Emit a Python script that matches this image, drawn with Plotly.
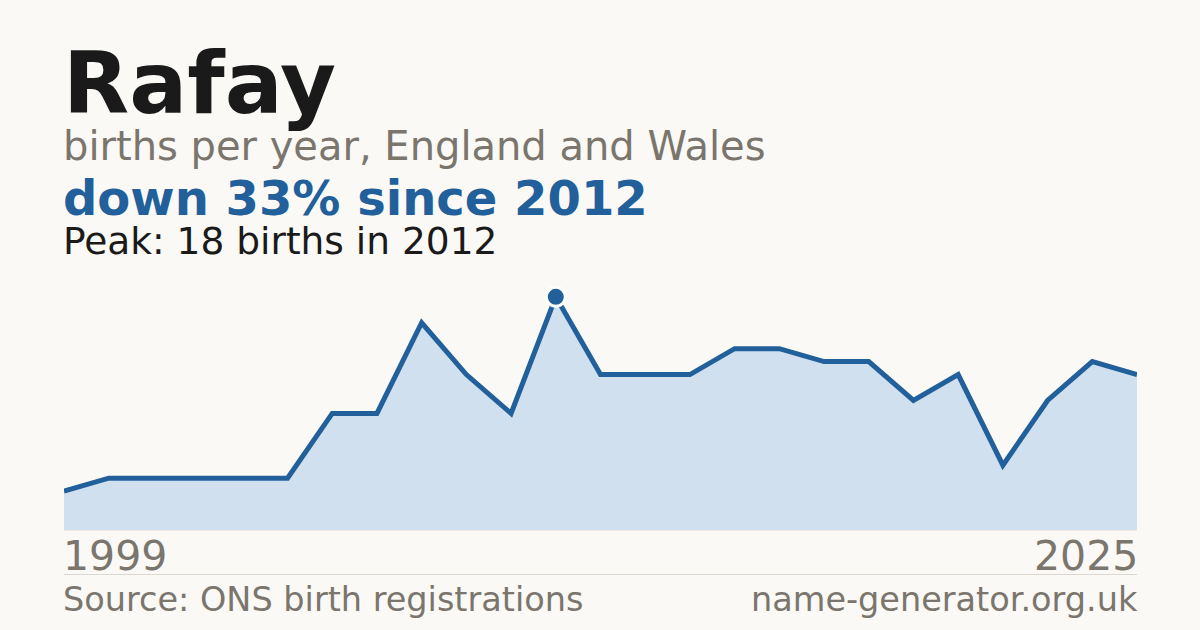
import plotly.graph_objects as go

# data (ONS births for the name, years with fewer than 3 births are not published)
years = [1999, 2002, 2003, 2004, 2005, 2006, 2007, 2008, 2009, 2010, 2011, 2012,
         2013, 2014, 2015, 2016, 2017, 2018, 2019, 2020, 2021, 2022, 2023, 2024, 2025]
births = [3, 4, 4, 4, 4, 4, 9, 9, 16, 12, 9, 18,
          12, 12, 12, 14, 14, 13, 13, 10, 12, 5, 10, 13, 12]

name = "Rafay"
subtitle = "births per year, England and Wales"
source = "Source: ONS birth registrations"
site = "name-generator.org.uk"

BG = "#faf9f5"
BLUE = "#21609a"
FILL = "#d0e0ef"
GREY = "#7a756d"
DARK = "#1a1a1a"
FONT = "DejaVu Sans"

peak_i = births.index(max(births))
peak_year = years[peak_i]
change = round((births[-1] - births[peak_i]) / births[peak_i] * 100)
headline = f"{'down' if change < 0 else 'up'} {abs(change)}% since {peak_year}"
peak_text = f"Peak: {births[peak_i]} births in {peak_year}"

x_cat = [str(y) for y in years]

# plot area spans y=280..530 px, x=64..1137 px
TOP, BOTTOM = 280, 530
LEFT, RIGHT = 64, 1137
PAD = 2 / (RIGHT - LEFT)  # annotation text sits a few px inside its box


def py(pixel_y):
    return (BOTTOM - pixel_y) / (BOTTOM - TOP)


fig = go.Figure()
fig.add_trace(go.Scatter(
    x=x_cat, y=births, mode="lines", fill="tozeroy",
    fillcolor=FILL, line=dict(color=BLUE, width=5),
    hoverinfo="skip", showlegend=False,
))
fig.add_trace(go.Scatter(
    x=[x_cat[peak_i]], y=[births[peak_i]], mode="markers",
    marker=dict(color=BLUE, size=19, line=dict(color="white", width=3)),
    hoverinfo="skip", showlegend=False, cliponaxis=False,
))

texts = [
    (name, 83, 86, DARK, True),
    (subtitle, 146, 40, GREY, False),
    (headline, 198, 48, BLUE, True),
    (peak_text, 241, 37.5, DARK, False),
]
annotations = []
for txt, yc, size, color, bold in texts:
    annotations.append(dict(
        text=f"<b>{txt}</b>" if bold else txt, xref="paper", yref="paper",
        x=-PAD, y=py(yc), xanchor="left", yanchor="middle", showarrow=False,
        font=dict(family=FONT, size=size, color=color), borderpad=0,
    ))

# end year labels and footer
annotations.append(dict(text=x_cat[0], xref="paper", yref="paper", x=-PAD, y=py(556),
                        xanchor="left", yanchor="middle", showarrow=False, borderpad=0,
                        font=dict(family=FONT, size=41, color=GREY)))
annotations.append(dict(text=x_cat[-1], xref="paper", yref="paper", x=1 + PAD, y=py(556),
                        xanchor="right", yanchor="middle", showarrow=False, borderpad=0,
                        font=dict(family=FONT, size=41, color=GREY)))
annotations.append(dict(text=source, xref="paper", yref="paper", x=-PAD, y=py(599),
                        xanchor="left", yanchor="middle", showarrow=False, borderpad=0,
                        font=dict(family=FONT, size=33.5, color=GREY)))
annotations.append(dict(text=site, xref="paper", yref="paper", x=1 + PAD, y=py(599),
                        xanchor="right", yanchor="middle", showarrow=False, borderpad=0,
                        font=dict(family=FONT, size=33.5, color=GREY)))

shapes = [
    dict(type="line", xref="paper", yref="paper", x0=0, x1=1, y0=0, y1=0,
         line=dict(color="#e6ded2", width=1), layer="below"),
    dict(type="line", xref="paper", yref="paper", x0=0, x1=1, y0=py(574.5), y1=py(574.5),
         line=dict(color="#dcd8d0", width=1)),
]

fig.update_layout(
    width=1200, height=630,
    paper_bgcolor=BG, plot_bgcolor=BG,
    margin=dict(l=LEFT, r=1200 - RIGHT, t=TOP, b=630 - BOTTOM),
    xaxis=dict(type="category", range=[0, len(years) - 1], visible=False, fixedrange=True),
    yaxis=dict(range=[0, 19.3], visible=False, fixedrange=True),
    annotations=annotations,
    shapes=shapes,
    font=dict(family=FONT),
)

fig.write_html("out.html", config={"displayModeBar": False},
               post_script="document.body.style.margin='0';")
